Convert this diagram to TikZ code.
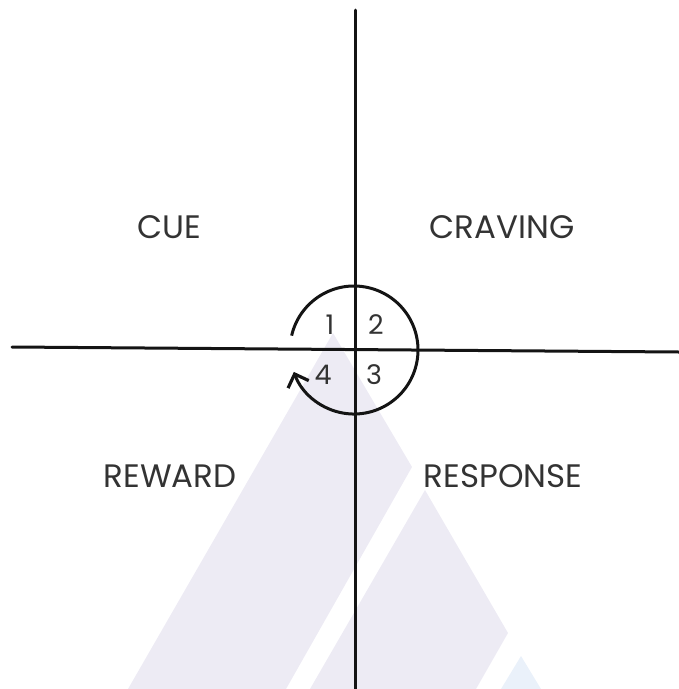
\documentclass[tikz,border=0pt]{standalone}
\usepackage{fontspec}
\setmainfont{Poppins}
\usetikzlibrary{arrows.meta,positioning}
\definecolor{markFill}{HTML}{EDEBF4}
\definecolor{markBlue}{HTML}{EAF1FA}
\definecolor{lineDraw}{HTML}{141414}
\definecolor{textGray}{HTML}{333333}
\tikzset{
  axis/.style  ={draw=lineDraw, line width=3pt, line cap=round},
  loop/.style  ={draw=lineDraw, line width=3pt, -{Straight Barb[length=11pt,width=22pt,line width=3.2pt]}},
  stage/.style ={text=textGray, font=\fontsize{32.5}{32.5}\selectfont, inner sep=0pt},
  num/.style   ={text=textGray, font=\fontsize{27}{27}\selectfont, inner sep=0pt},
}
\begin{document}
\begin{tikzpicture}[x=1pt,y=-1pt]
  \useasboundingbox (0,0) rectangle (679,689);
  % background marks
  \fill[markFill] (333,333) -- (412,467) -- (286,689) -- (128,689) -- cycle;
  \fill[markFill] (425,490) -- (508,633) -- (476,689) -- (310,689) -- cycle;
  \fill[markBlue] (521,656) -- (541,689) -- (501,689) -- cycle;

  % axes
  \coordinate (top)    at (355,10);
  \coordinate (bottom) at (355,689);
  \coordinate (left)   at (12,347);
  \coordinate (right)  at (679,352);
  \draw[axis] (left) -- (right);
  \draw[axis] (top) -- (bottom);

  % loop (y is flipped, so angles run the other way)
  \coordinate (hub) at (354,350);
  \draw[loop] ([shift={(-167:64)}]hub) arc[start angle=-167, end angle=160, radius=64];

  \node[num] (n1) at (330,325) {1};
  \node[num] (n2) at (376,325) {2};
  \node[num] (n3) at (374,375) {3};
  \node[num] (n4) at (323,375) {4};

  \node[stage] (cue)      at (169,227) {CUE};
  \node[stage] (craving)  at (502,227) {CRAVING};
  \node[stage] (reward)   at (170,476) {REWARD};
  \node[stage] (response) at (503,476) {RESPONSE};
\end{tikzpicture}
\end{document}
